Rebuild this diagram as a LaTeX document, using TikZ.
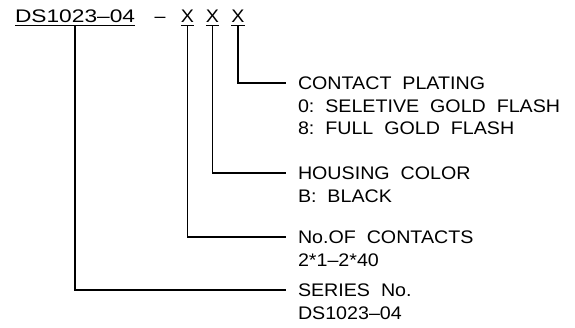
\documentclass[tikz,border=0pt]{standalone}
\usepackage{fontspec}
\setmainfont{Liberation Sans}[FakeStretch=1.08]
\newfontfamily\titlefont{Liberation Sans}[FakeStretch=1.25]
\tikzset{
  lab/.style={inner sep=0pt, outer sep=0pt, align=left, anchor=north west,
    font=\fontsize{18.2}{22.5}\selectfont},
  code/.style={inner sep=0pt, outer sep=0pt, anchor=base,
    font=\fontsize{18.2}{22}\selectfont},
  conn/.style={line width=1.5pt, line cap=rect, line join=miter},
  uline/.style={line width=1.1pt}
}
\begin{document}
\begin{tikzpicture}[x=1pt,y=-1pt]
\useasboundingbox[fill=white] (0,0) rectangle (575,327);
% code line
\node[code, anchor=base west, font=\fontsize{18.2}{22}\titlefont] (t) at (15,22) {DS1023–04};
\node[code] (d) at (160,22) {–};
\node[code] (x1) at (187.5,22) {X};
\node[code] (x2) at (212.5,22) {X};
\node[code] (x3) at (238,22) {X};
\foreach \n in {t,x1,x2,x3}{
  \draw[uline] ([yshift=-3.5pt]\n.base west) -- ([yshift=-3.5pt]\n.base east);
}
% labels
\node[lab] (l3) at (298,77) {CONTACT\ \ PLATING\\0:\ \ SELETIVE\ \ GOLD\ \ FLASH\\8:\ \ FULL\ \ GOLD\ \ FLASH};
\node[lab] (l2) at (298,167) {HOUSING\ \ COLOR\\B:\ \ BLACK};
\node[lab] (l1) at (298,231) {No.OF\ \ CONTACTS\\2*1–2*40};
\node[lab] (l0) at (298,284) {SERIES\ \ No.\\DS1023–04};
% connectors
\draw[conn] ([yshift=-3.5pt]x3.base) |- ([xshift=-13pt,yshift=-6pt]l3.north west);
\draw[conn] ([yshift=-3.5pt]x2.base) |- ([xshift=-13pt,yshift=-6pt]l2.north west);
\draw[conn] ([yshift=-3.5pt]x1.base) |- ([xshift=-13pt,yshift=-6pt]l1.north west);
\draw[conn] ([yshift=-3.5pt]t.base) |- ([xshift=-13pt,yshift=-6pt]l0.north west);
\end{tikzpicture}
\end{document}
